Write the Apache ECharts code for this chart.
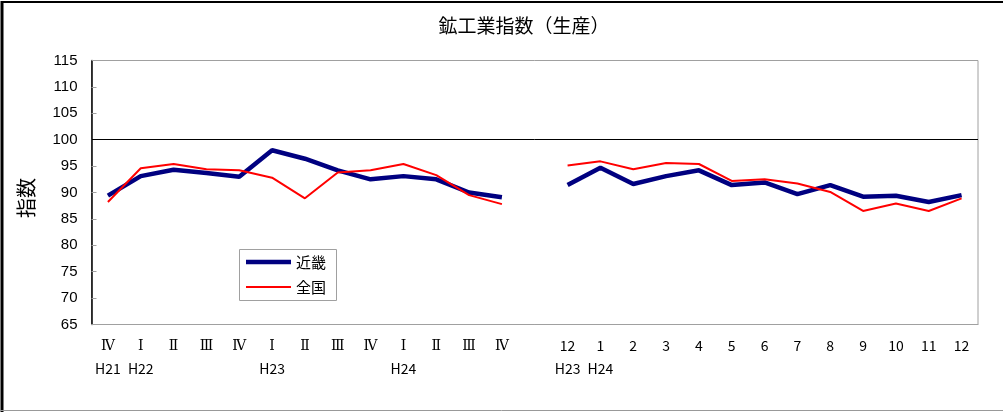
<!DOCTYPE html>
<html>
<head>
<meta charset="utf-8">
<script src="https://cdn.jsdelivr.net/npm/echarts@6/dist/echarts.min.js"></script>
<style>
html,body{margin:0;padding:0;background:#fff;}
#c{width:1003px;height:412px;}
</style>
</head>
<body>
<div id="c"></div>
<script>
var categories = ['Ⅳ\nH21','Ⅰ\nH22','Ⅱ','Ⅲ','Ⅳ','Ⅰ\nH23','Ⅱ','Ⅲ','Ⅳ','Ⅰ\nH24','Ⅱ','Ⅲ','Ⅳ','',
  '12\nH23','1\nH24','2','3','4','5','6','7','8','9','10','11','12'];
var kinki = [89.4,93.1,94.3,93.7,93.0,98.0,96.4,94.2,92.5,93.1,92.5,90.0,89.1,null,
  91.4,94.7,91.6,93.1,94.2,91.4,91.9,89.7,91.4,89.2,89.4,88.2,89.5];
var zenkoku = [88.2,94.6,95.4,94.4,94.2,92.8,88.9,93.8,94.2,95.4,93.3,89.5,87.8,null,
  95.1,95.9,94.4,95.6,95.4,92.2,92.5,91.7,90.1,86.5,87.9,86.5,88.9];
var yTicks = {min:65, max:115, interval:5};

var chart = echarts.init(document.getElementById('c'));
var font = '"Noto Sans CJK JP", sans-serif';
var roman = /^[ⅠⅡⅢⅣ]$/;
chart.setOption({
  animation:false,
  backgroundColor:'#fff',
  title:{text:'鉱工業指数（生産）', left:519, top:11, textAlign:'center',
    textStyle:{fontFamily:font, fontSize:19, fontWeight:'normal', color:'#000'}},
  graphic:[
    {type:'line', shape:{x1:2,y1:2,x2:1003,y2:2}, style:{stroke:'#000',lineWidth:2}},
    {type:'line', shape:{x1:2,y1:1,x2:2,y2:412}, style:{stroke:'#000',lineWidth:3}},
    {type:'line', shape:{x1:0,y1:410.5,x2:1003,y2:410.5}, style:{stroke:'#999',lineWidth:1}},
    {type:'rect', shape:{x:239.5,y:249.5,width:97,height:51}, style:{fill:'none',stroke:'#a0a0a0',lineWidth:1}},
    {type:'text', x:26, y:198, rotation:Math.PI/2,
      style:{text:'指数', fontFamily:font, fontSize:20, fill:'#000', align:'center', verticalAlign:'middle'}}
  ],
  grid:{left:91.5, right:25, top:60.5, bottom:87.5, show:true, borderColor:'#a0a0a0', borderWidth:1},
  legend:[
    {left:246, top:252, padding:0, icon:'rect', itemWidth:45, itemHeight:4.5,
      textStyle:{fontFamily:font, fontSize:15, color:'#000', lineHeight:20}, data:['近畿']},
    {left:246, top:277, padding:0, icon:'rect', itemWidth:45, itemHeight:2,
      textStyle:{fontFamily:font, fontSize:15, color:'#000', lineHeight:20}, data:['全国']}
  ],
  xAxis:{
    type:'category', data:categories, boundaryGap:true,
    axisLine:{lineStyle:{color:'#a0a0a0'}},
    axisTick:{show:false},
    axisLabel:{interval:0, margin:10, color:'#000',
      formatter:function(v){
        var p = v.split('\n');
        var first = roman.test(p[0]) ? '{r|'+p[0]+'}' : '{n|'+p[0]+'}';
        return p.length>1 ? first+'\n{n|'+p[1]+'}' : first;
      },
      rich:{
        r:{fontFamily:'"DejaVu Serif", "Liberation Serif", serif', fontSize:14, color:'#000', lineHeight:23},
        n:{fontFamily:font, fontSize:14, color:'#000', lineHeight:23}
      }
    }
  },
  yAxis:{
    type:'value', min:yTicks.min, max:yTicks.max, interval:yTicks.interval,
    axisLine:{show:true, lineStyle:{color:'#000', width:1.5}},
    axisTick:{show:true, inside:true, length:5, lineStyle:{color:'#a0a0a0'}},
    splitLine:{show:false},
    axisLabel:{margin:14, fontFamily:'Arial, "Liberation Sans", sans-serif', fontSize:15, color:'#000'}
  },
  series:[
    {name:'近畿', type:'line', data:kinki, symbol:'none', connectNulls:false,
      lineStyle:{color:'#000080', width:4.5}, itemStyle:{color:'#000080'}, z:3,
      markLine:{silent:true, symbol:['none','none'], label:{show:false},
        lineStyle:{color:'#000', width:1, type:'solid'}, data:[{yAxis:100}]}},
    {name:'全国', type:'line', data:zenkoku, symbol:'none', connectNulls:false,
      lineStyle:{color:'#ff0000', width:2}, itemStyle:{color:'#ff0000'}, z:4}
  ]
});
</script>
</body>
</html>
